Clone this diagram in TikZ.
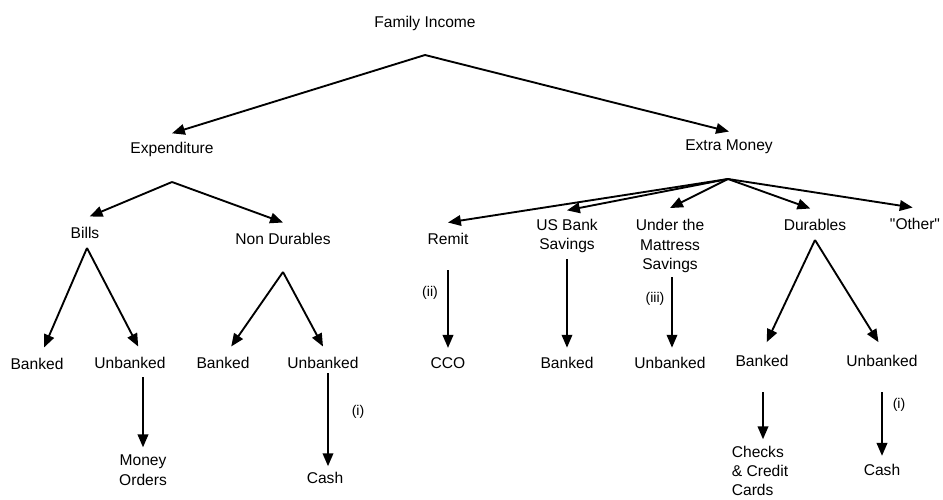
\documentclass[tikz,border=0pt]{standalone}
\usepackage{fontspec}
\setmainfont{Liberation Sans}
\usepackage{tikz}
\usetikzlibrary{arrows.meta, positioning}

\tikzset{
  lbl/.style={font=\fontsize{13.3}{17}\selectfont, align=center, inner sep=1pt},
  note/.style={font=\fontsize{12}{14}\selectfont, inner sep=1pt},
  arr/.style={-{Triangle[length=11pt,width=9pt]}, line width=1.6pt},
}

\begin{document}
\begin{tikzpicture}[x=0.03cm, y=-0.03cm]
  \useasboundingbox (0,0) rectangle (943,499);
  % top level
  \node[lbl] (fam) at (425,23) {Family Income};
  \coordinate (fam-a) at (425,55);
  \node[lbl] (expend) at (172,149) {Expenditure};
  \node[lbl] (extra) at (729,147) {Extra Money};
  \draw[arr] (fam-a) -- ([yshift=6pt]expend.north);
  \draw[arr] (fam-a) -- ([yshift=6pt]extra.north);

  % expenditure side
  \coordinate (expend-a) at (172,182);
  \node[lbl] (bills) at (85,233) {Bills};
  \node[lbl] (nondur) at (283,239) {Non Durables};
  \draw[arr] (expend-a) -- ([xshift=4pt,yshift=8pt]bills.north);
  \draw[arr] (expend-a) -- ([yshift=8pt]nondur.north);

  \coordinate (bills-a) at (87,248);
  \node[lbl] (banked1) at (37,364) {Banked};
  \node[lbl] (unbanked1) at (130,363) {Unbanked};
  \draw[arr] (bills-a) -- ([xshift=6pt,yshift=8pt]banked1.north);
  \draw[arr] (bills-a) -- ([xshift=7pt,yshift=8pt]unbanked1.north);

  \coordinate (nondur-a) at (283,272);
  \node[lbl] (banked2) at (223,363) {Banked};
  \node[lbl] (unbanked2) at (323,363) {Unbanked};
  \draw[arr] (nondur-a) -- ([xshift=7pt,yshift=8pt]banked2.north);
  \draw[arr] (nondur-a) -- ([yshift=8pt]unbanked2.north);

  \coordinate (unbanked1-s) at (143,377);
  \node[lbl] (money) at (143,470) {Money\\Orders};
  \draw[arr] (unbanked1-s) -- ([yshift=5pt]unbanked1-s |- money.north);

  \coordinate (unbanked2-s) at (328,373);
  \node[lbl] (cash1) at (325,478) {Cash};
  \draw[arr] (unbanked2-s) -- ([yshift=4pt]unbanked2-s |- cash1.north);
  \node[note] (lab-i1) at (358,412) {(i)};

  % extra money side
  \coordinate (extra-a) at (728,179);
  \node[lbl] (remit) at (448,239) {Remit};
  \node[lbl] (usbank) at (567,236) {US Bank\\Savings};
  \node[lbl] (mattress) at (670,246) {Under the\\Mattress\\Savings};
  \node[lbl] (durab) at (815,225) {Durables};
  \node[lbl] (other) at (915,224) {\textquotedbl Other\textquotedbl};
  \draw[arr] (extra-a) -- ([yshift=8pt]remit.north);
  \draw[arr] (extra-a) -- ([yshift=6pt]usbank.north);
  \draw[arr] (extra-a) -- ([yshift=8pt]mattress.north);
  \draw[arr] (extra-a) -- ([xshift=-4pt,yshift=8pt]durab.north);
  \draw[arr] (extra-a) -- ([xshift=-2pt,yshift=8pt]other.north);

  \coordinate (remit-s) at (448,270);
  \node[lbl] (cco) at (448,363) {CCO};
  \draw[arr] (remit-s) -- ([yshift=7pt]remit-s |- cco.north);
  \node[note] (lab-ii) at (430,293) {(ii)};

  \coordinate (usbank-s) at (567,259);
  \node[lbl] (banked3) at (567,363) {Banked};
  \draw[arr] (usbank-s) -- ([yshift=7pt]usbank-s |- banked3.north);

  \coordinate (mattress-s) at (672,277);
  \node[lbl] (unbanked3) at (670,363) {Unbanked};
  \draw[arr] (mattress-s) -- ([yshift=7pt]mattress-s |- unbanked3.north);
  \node[note] (lab-iii) at (655,299) {(iii)};

  \coordinate (durab-a) at (815,240);
  \node[lbl] (banked4) at (762,361) {Banked};
  \node[lbl] (unbanked4) at (882,361) {Unbanked};
  \draw[arr] (durab-a) -- ([xshift=4pt,yshift=10pt]banked4.north);
  \draw[arr] (durab-a) -- ([xshift=-3pt,yshift=10pt]unbanked4.north);

  \coordinate (banked4-s) at (763,392);
  \node[lbl, align=left, font=\fontsize{13.3}{16}\selectfont] (checks) at (760,471) {Checks\\\& Credit\\Cards};
  \draw[arr] (banked4-s) -- ([yshift=5pt]banked4-s |- checks.north);

  \coordinate (unbanked4-s) at (882,392);
  \node[lbl] (cash2) at (882,470) {Cash};
  \draw[arr] (unbanked4-s) -- ([yshift=6pt]unbanked4-s |- cash2.north);
  \node[note] (lab-i2) at (899,405) {(i)};
\end{tikzpicture}
\end{document}
